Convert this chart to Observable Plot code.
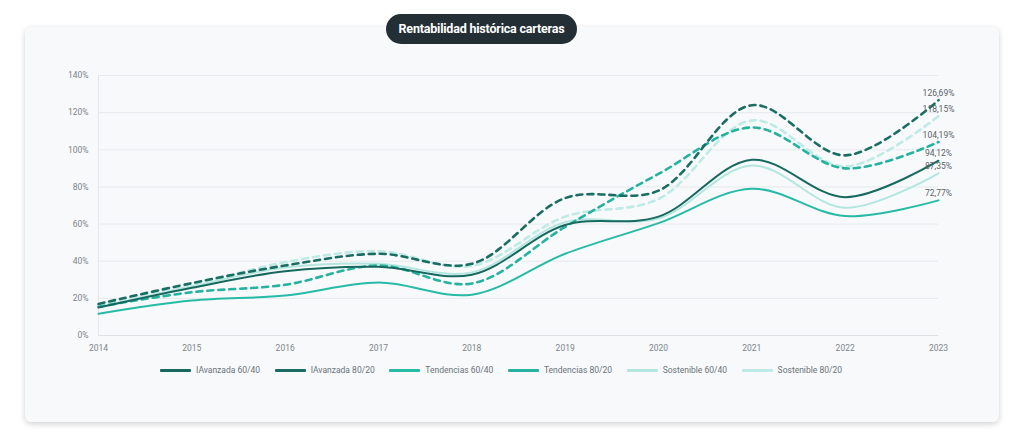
<!DOCTYPE html>
<html>
<head>
<meta charset="utf-8">
<script src="https://cdn.jsdelivr.net/npm/d3@7"></script>
<script src="https://cdn.jsdelivr.net/npm/@observablehq/plot@0.6"></script>
<style>
  html, body { margin: 0; padding: 0; width: 1024px; height: 432px; background: #ffffff; overflow: hidden; font-family: Roboto, "Noto Sans", sans-serif; }
  #card { position: absolute; left: 25px; top: 27px; width: 974px; height: 395px; background: #f7f9fb; border-radius: 6px; box-shadow: 0 2px 6px rgba(0,0,0,0.18); }
  #title { position: absolute; left: 386px; top: 14px; width: 191px; height: 30px; background: #232f35; border-radius: 15px; color: #fff; font-weight: 700; font-size: 12.5px; line-height: 30px; text-align: center; letter-spacing: -0.2px; }
  #chart { position: absolute; left: 0; top: 0; }
  #legend { position: absolute; left: 160px; top: 363px; width: 682px; display: flex; justify-content: space-between; font-size: 8.5px; color: #6b7378; line-height: 14px; }
  .item { display: flex; align-items: center; gap: 5px; white-space: nowrap; }
  .sw { width: 31px; height: 3px; border-radius: 1px; }
</style>
</head>
<body>
<div id="card"></div>
<div id="title">Rentabilidad histórica carteras</div>
<div id="chart"></div>
<div id="legend"></div>
<script>
const years = [2014, 2015, 2016, 2017, 2018, 2019, 2020, 2021, 2022, 2023];
const seriesNames = ["IAvanzada 60/40", "IAvanzada 80/20", "Tendencias 60/40", "Tendencias 80/20", "Sostenible 60/40", "Sostenible 80/20"];
const ia6040 = [15, 25.7, 34.6, 37, 32.7, 59.5, 64, 94.6, 74.5, 94.12];
const ia8020 = [17, 28.2, 37.7, 44, 38.6, 74, 78, 124, 97, 126.69];
const te6040 = [11.7, 18.8, 21.5, 28.5, 22, 44, 60.5, 79, 64.3, 72.77];
const te8020 = [15.5, 23.3, 27.3, 37.7, 28, 58.5, 87, 112, 90, 104.19];
const so6040 = [15.3, 26.5, 36.6, 38.6, 34, 61, 63, 91.5, 68.8, 87.35];
const so8020 = [16, 27, 39.5, 45.4, 37.5, 64, 73.5, 115.8, 91, 118.15];
const yTicks = [0, 20, 40, 60, 80, 100, 120, 140];

const seriesValues = [ia6040, ia8020, te6040, te8020, so6040, so8020];
const colors = ["#17695f", "#1a6d62", "#27bba6", "#25b29e", "#b4e6e0", "#bfeae5"];
const dashed = [false, true, false, true, false, true];

const rows = [];
seriesNames.forEach((name, i) => {
  years.forEach((yr, j) => rows.push({ series: name, idx: i, year: yr, value: seriesValues[i][j] }));
});
const ends = seriesNames.map((name, i) => ({ series: name, year: years[years.length - 1], value: seriesValues[i][years.length - 1] }));

const marks = [
  Plot.gridY(yTicks, { stroke: "#e6eaed", strokeOpacity: 1, strokeWidth: 1 }),
  Plot.ruleX([years[0]], { y1: 0, y2: 140, stroke: "#e3e7ea" }),
  Plot.ruleY([0], { stroke: "#dde2e5" })
];
const order = [4, 5, 2, 3, 0, 1];
order.forEach(i => {
  marks.push(Plot.line(rows.filter(r => r.idx === i), {
    x: "year", y: "value", curve: "catmull-rom",
    stroke: colors[i], strokeWidth: dashed[i] ? 2.6 : 2,
    strokeDasharray: dashed[i] ? "6,5" : null
  }));
});
marks.push(Plot.text(ends, {
  x: "year", y: "value", dy: -7,
  text: d => d.value.toFixed(2).replace(".", ",") + "%",
  fill: "#5b6368", fontSize: 8.5, textAnchor: "middle"
}));
marks.push(Plot.axisY(yTicks, { tickSize: 0, tickPadding: 10, tickFormat: d => d + "%", fill: "#7d858a", fontSize: 8.5, label: null }));
marks.push(Plot.axisX(years, { tickSize: 0, tickPadding: 9, tickFormat: d => String(d), fill: "#7d858a", fontSize: 8.5, label: null }));

const chart = Plot.plot({
  width: 1024,
  height: 360,
  marginLeft: 98,
  marginRight: 86,
  marginTop: 75,
  marginBottom: 25,
  style: { background: "transparent", fontFamily: "Roboto, sans-serif" },
  x: { domain: [2014, 2023], type: "linear", label: null },
  y: { domain: [0, 140], label: null },
  marks
});
document.getElementById("chart").appendChild(chart);

const legend = document.getElementById("legend");
seriesNames.forEach((name, i) => {
  const it = document.createElement("div");
  it.className = "item";
  const sw = document.createElement("div");
  sw.className = "sw";
  sw.style.background = colors[i];
  const tx = document.createElement("span");
  tx.textContent = name;
  it.appendChild(sw); it.appendChild(tx);
  legend.appendChild(it);
});
</script>
</body>
</html>
